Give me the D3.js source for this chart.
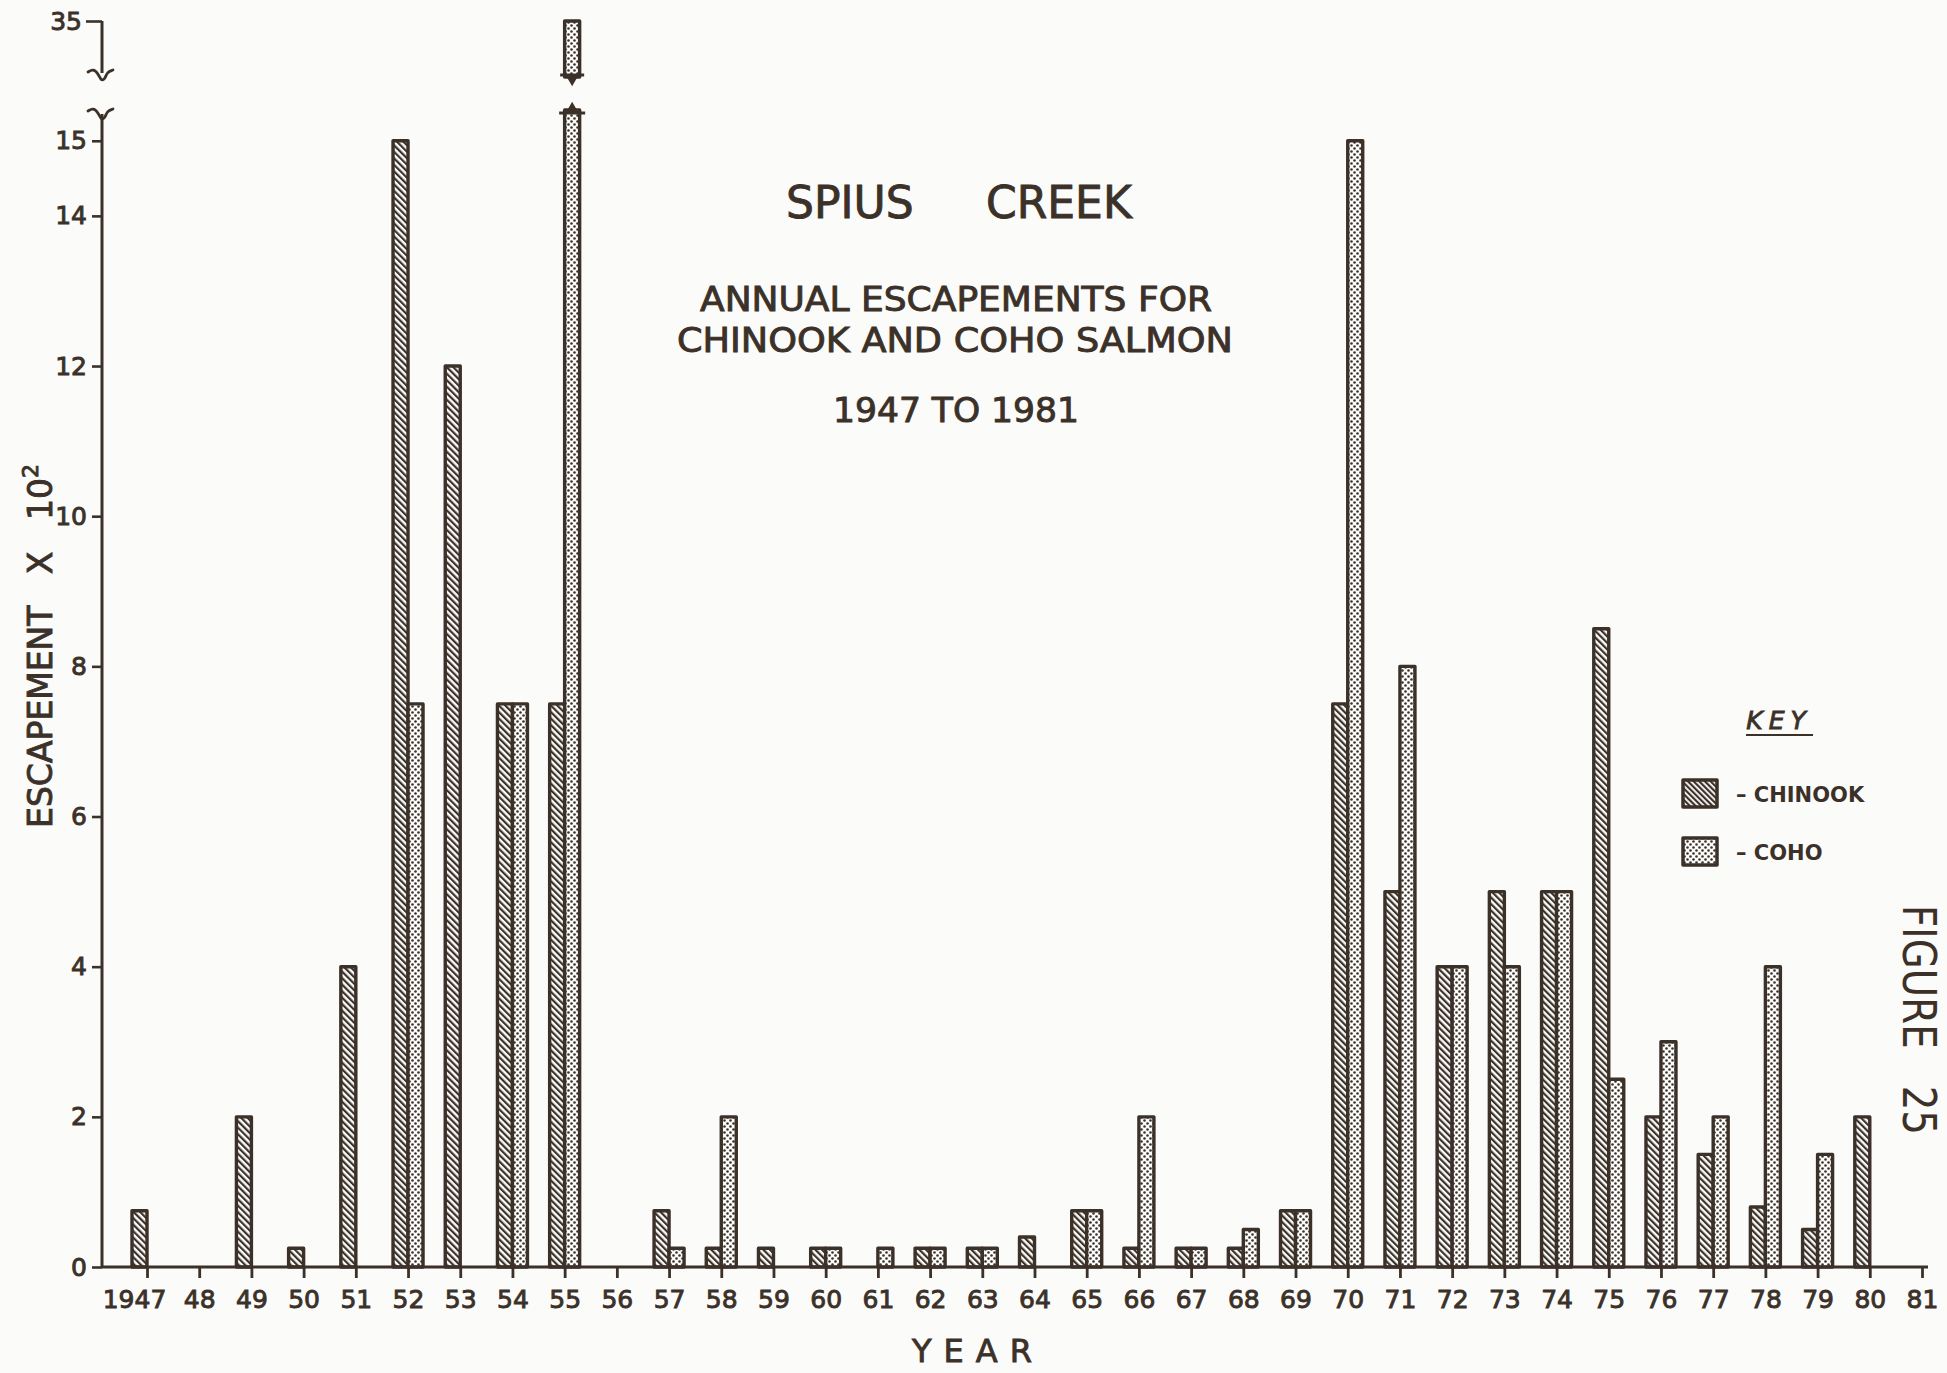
<!DOCTYPE html>
<html>
<head>
<meta charset="utf-8">
<script src="https://cdn.jsdelivr.net/npm/d3@7"></script>
<style>
  html, body { margin: 0; padding: 0; background: #fbfbf9; }
  svg { display: block; }
  text { fill: #3b3129; font-family: "DejaVu Sans", "Liberation Sans", sans-serif; }
  .ink { stroke: #3b3129; stroke-width: 0.9px; paint-order: stroke; }
  .pre { white-space: pre; }
</style>
</head>
<body>
<svg id="chart" width="1947" height="1373"></svg>
<script>
// Spius Creek annual escapements (hundreds of fish), 1947–1981
const years = d3.range(1947, 1982);
const yearLabels = ["1947","48","49","50","51","52","53","54","55","56","57","58","59","60",
  "61","62","63","64","65","66","67","68","69","70","71","72","73","74","75","76","77","78","79","80","81"];
const chinook = [0.75, null, 2, 0.25, 4, 15, 12, 7.5, 7.5, null, 0.75, 0.25, 0.25, 0.25, null,
  0.25, 0.25, 0.4, 0.75, 0.25, 0.25, 0.25, 0.75, 7.5, 5, 4, 5, 5, 8.5, 2, 1.5, 0.8, 0.5, 2, null];
const coho = [null, null, null, null, null, 7.5, null, 7.5, 35, null, 0.25, 2, null, 0.25, 0.25,
  0.25, 0.25, null, 0.75, 2, 0.25, 0.5, 0.75, 15, 8, 4, 4, 5, 2.5, 3, 2, 4, 1.5, null, null];
const yTickValues = [0, 2, 4, 6, 8, 10, 12, 14, 15, 35];
const breakLow = 15.41;   // top of the lower axis segment
const breakHigh = 33;     // bottom of the upper axis segment

const INK = "#3b3129";
const svg = d3.select("#chart");

// Scales: the y scale is piecewise so the axis can jump from ~15 to 35
const x = d3.scaleLinear().domain([1947, 1981]).range([147, 1922]);
const y = d3.scaleLinear().domain([0, breakLow, breakHigh, 35]).range([1267, 110, 77, 21]);
const axisX = 102;
const bw = 15;

// Fill patterns
const defs = svg.append("defs");
const hatch = defs.append("pattern").attr("id", "hatch")
  .attr("patternUnits", "userSpaceOnUse").attr("width", 4.6).attr("height", 4.6)
  .attr("patternTransform", "rotate(-45)");
hatch.append("rect").attr("width", 4.6).attr("height", 4.6).attr("fill", "#fbfbf9");
hatch.append("rect").attr("x", 0).attr("width", 2.2).attr("height", 4.6).attr("fill", INK);

const dots = defs.append("pattern").attr("id", "dots")
  .attr("patternUnits", "userSpaceOnUse").attr("width", 6).attr("height", 6);
dots.append("rect").attr("width", 6).attr("height", 6).attr("fill", "#fbfbf9");
dots.append("circle").attr("cx", 1.5).attr("cy", 1.5).attr("r", 1.3).attr("fill", INK);
dots.append("circle").attr("cx", 4.5).attr("cy", 4.5).attr("r", 1.3).attr("fill", INK);

const hatchKey = defs.append("pattern").attr("id", "hatchKey")
  .attr("patternUnits", "userSpaceOnUse").attr("width", 4).attr("height", 4)
  .attr("patternTransform", "rotate(-45)");
hatchKey.append("rect").attr("width", 4).attr("height", 4).attr("fill", "#fbfbf9");
hatchKey.append("rect").attr("width", 2.2).attr("height", 4).attr("fill", INK);

// Bars
const barStyle = sel => sel.attr("stroke", INK).attr("stroke-width", 3.4).attr("stroke-linejoin", "round");
const gBars = svg.append("g");

years.forEach((yr, i) => {
  const c = chinook[i];
  if (c != null) {
    gBars.append("rect").call(barStyle)
      .attr("x", x(yr) - bw).attr("width", bw)
      .attr("y", y(c)).attr("height", y(0) - y(c))
      .attr("fill", "url(#hatch)");
  }
  const k = coho[i];
  if (k != null) {
    if (k > breakLow) {
      // broken bar: lower part up to the break, upper part above it
      gBars.append("rect").call(barStyle)
        .attr("x", x(yr)).attr("width", bw)
        .attr("y", y(breakLow)).attr("height", y(0) - y(breakLow))
        .attr("fill", "url(#dots)");
      gBars.append("rect").call(barStyle)
        .attr("x", x(yr)).attr("width", bw)
        .attr("y", y(k)).attr("height", y(breakHigh) - y(k))
        .attr("fill", "url(#dots)");
      const cx = x(yr) + bw / 2;
      // down arrow under the upper part
      gBars.append("path")
        .attr("d", `M${cx - 12},${y(breakHigh) - 2} L${cx + 12},${y(breakHigh) - 2}`)
        .attr("stroke", INK).attr("stroke-width", 3);
      gBars.append("path")
        .attr("transform", `translate(${cx},${y(breakHigh) + 2}) rotate(180)`)
        .attr("d", d3.symbol(d3.symbolTriangle, 70)()).attr("fill", INK);
      // up arrow on top of the lower part
      gBars.append("path")
        .attr("d", `M${cx - 13},${y(breakLow) + 3} L${cx + 13},${y(breakLow) + 3}`)
        .attr("stroke", INK).attr("stroke-width", 3);
      gBars.append("path")
        .attr("transform", `translate(${cx},${y(breakLow) - 1})`)
        .attr("d", d3.symbol(d3.symbolTriangle, 70)()).attr("fill", INK);
    } else {
      gBars.append("rect").call(barStyle)
        .attr("x", x(yr)).attr("width", bw)
        .attr("y", y(k)).attr("height", y(0) - y(k))
        .attr("fill", "url(#dots)");
    }
  }
});

// X axis
const xAxis = d3.axisBottom(x).tickValues(years)
  .tickFormat((d, i) => yearLabels[i]).tickSize(11).tickPadding(12);
const gx = svg.append("g").attr("transform", `translate(0,${y(0)})`).call(xAxis);
gx.select(".domain").remove();
gx.selectAll(".tick line").attr("stroke", INK).attr("stroke-width", 2.8);
gx.selectAll(".tick text").attr("font-size", 25).attr("fill", INK).attr("class", "ink")
  .attr("font-family", "DejaVu Sans, sans-serif");
gx.selectAll(".tick text").filter((d, i) => i === 0).attr("dx", -13);
svg.append("line")
  .attr("x1", axisX).attr("x2", x(1981) + 6)
  .attr("y1", y(0)).attr("y2", y(0))
  .attr("stroke", INK).attr("stroke-width", 3);

// Y axis
const yAxis = d3.axisLeft(y).tickValues(yTickValues).tickSize(10).tickPadding(5);
const gy = svg.append("g").attr("transform", `translate(${axisX},0)`).call(yAxis);
gy.select(".domain").remove();
gy.selectAll(".tick line").attr("stroke", INK).attr("stroke-width", 2.6);
gy.selectAll(".tick text").attr("font-size", 25).attr("fill", INK).attr("class", "ink")
  .attr("font-family", "DejaVu Sans, sans-serif");
gy.selectAll(".tick").filter(d => d === 35).select("line").attr("x2", -16);
gy.selectAll(".tick").filter(d => d === 35).select("text").attr("x", -20);

svg.append("line").attr("x1", axisX).attr("x2", axisX)
  .attr("y1", y(0)).attr("y2", y(breakLow) + 4)
  .attr("stroke", INK).attr("stroke-width", 3);
svg.append("line").attr("x1", axisX).attr("x2", axisX)
  .attr("y1", y(35)).attr("y2", y(breakHigh) - 4)
  .attr("stroke", INK).attr("stroke-width", 3);

// Axis break squiggles
const squiggle = d3.line().curve(d3.curveBasis);
const wave = [[-14, -1], [-9, -4], [-4, 0], [-1, 8], [3, 6], [5, -1], [11, -3]];
[y(breakHigh) - 4, y(breakLow) + 2].forEach(yy => {
  svg.append("path")
    .attr("d", squiggle(wave.map(p => [axisX + p[0], yy + p[1]])))
    .attr("fill", "none").attr("stroke", INK).attr("stroke-width", 2.8)
    .attr("stroke-linecap", "round");
});

// Titles
const title = svg.append("text").attr("y", 218).attr("font-size", 44).attr("class", "ink");
title.append("tspan").attr("x", 786).text("SPIUS");
title.append("tspan").attr("x", 986).text("CREEK");
svg.append("text").attr("x", 956).attr("y", 311).attr("text-anchor", "middle").attr("class", "ink")
  .attr("font-size", 33).attr("textLength", 512).attr("lengthAdjust", "spacingAndGlyphs")
  .text("ANNUAL ESCAPEMENTS FOR");
svg.append("text").attr("x", 955).attr("y", 352).attr("text-anchor", "middle").attr("class", "ink")
  .attr("font-size", 33).attr("textLength", 556).attr("lengthAdjust", "spacingAndGlyphs")
  .text("CHINOOK AND COHO SALMON");
svg.append("text").attr("x", 956).attr("y", 422).attr("text-anchor", "middle").attr("class", "ink")
  .attr("font-size", 33).attr("textLength", 246).attr("lengthAdjust", "spacingAndGlyphs")
  .text("1947 TO 1981");

// Axis titles
const yt = svg.append("text").attr("transform", "translate(52,646) rotate(-90)").attr("class", "ink pre")
  .attr("text-anchor", "middle").attr("font-size", 33);
yt.append("tspan").text("ESCAPEMENT   X   10");
yt.append("tspan").attr("font-size", 22).attr("dy", -14).text("2");

svg.append("text").attr("x", 978).attr("y", 1362).attr("text-anchor", "middle").attr("class", "ink")
  .attr("font-size", 32).attr("letter-spacing", 12).text("YEAR");

svg.append("text").attr("transform", "translate(1903,1020) rotate(90)").attr("class", "pre")
  .attr("text-anchor", "middle").attr("font-size", 46)
  .attr("textLength", 230).attr("lengthAdjust", "spacingAndGlyphs")
  .text("FIGURE   25");

// Key
svg.append("text").attr("x", 1779).attr("y", 729).attr("text-anchor", "middle")
  .attr("font-size", 25).attr("font-style", "italic").attr("letter-spacing", 6).attr("class", "ink")
  .text("KEY");
svg.append("line").attr("x1", 1746).attr("x2", 1813).attr("y1", 735).attr("y2", 735)
  .attr("stroke", INK).attr("stroke-width", 2.2);

const keyItems = [
  { label: "– CHINOOK", fill: "url(#hatchKey)", y: 780 },
  { label: "– COHO", fill: "url(#dots)", y: 838 }
];
keyItems.forEach(d => {
  svg.append("rect").attr("x", 1683).attr("y", d.y).attr("width", 34).attr("height", 27)
    .attr("fill", d.fill).attr("stroke", INK).attr("stroke-width", 3.5)
    .attr("stroke-linejoin", "round");
  svg.append("text").attr("x", 1736).attr("y", d.y + 22)
    .attr("font-family", "Liberation Sans, Arial, sans-serif").attr("font-weight", "bold")
    .attr("font-size", 21).text(d.label);
});
</script>
</body>
</html>
